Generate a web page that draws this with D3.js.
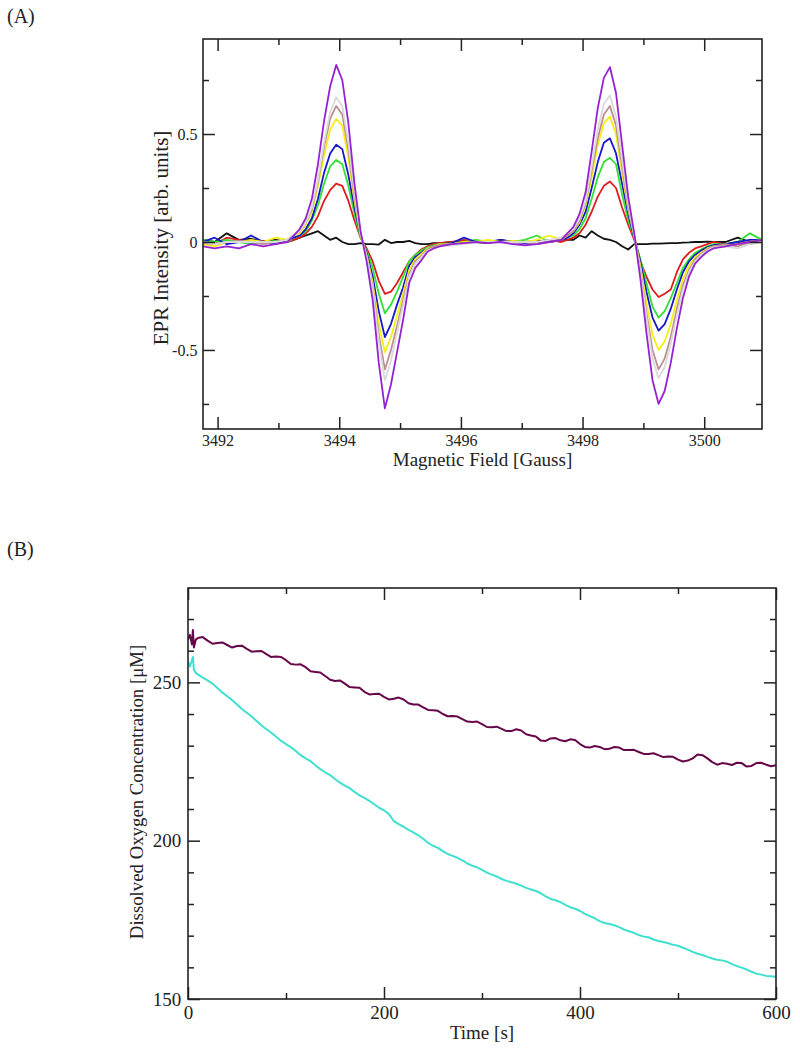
<!DOCTYPE html>
<html>
<head>
<meta charset="utf-8">
<script src="https://cdn.jsdelivr.net/npm/d3@7"></script>
<style>
  body { margin: 0; background: #fff; }
  text { font-family: "Liberation Serif", "DejaVu Serif", serif; fill: #222; }
  .tick line { stroke: #222; stroke-width: 1.5; }
</style>
</head>
<body>
<div id="chart"></div>
<script>
// Panel A: EPR spectra (field in Gauss, intensity in arb. units)
const field = [3491.76, 3491.95, 3492.15, 3492.35, 3492.55, 3492.75, 3492.95, 3493.15, 3493.25,
  3493.35, 3493.45, 3493.55, 3493.65, 3493.75, 3493.85, 3493.95, 3494.05, 3494.15, 3494.25, 3494.35, 3494.45,
  3494.55, 3494.65, 3494.75, 3494.85, 3494.95, 3495.05, 3495.15, 3495.25, 3495.35, 3495.45, 3495.55, 3495.65,
  3495.85, 3496.05, 3496.25, 3496.45, 3496.65, 3496.85, 3497.05, 3497.25, 3497.45, 3497.65, 3497.75,
  3497.85, 3497.95, 3498.05, 3498.15, 3498.25, 3498.35, 3498.45, 3498.55, 3498.65, 3498.75, 3498.85, 3498.95,
  3499.05, 3499.15, 3499.25, 3499.35, 3499.45, 3499.55, 3499.65, 3499.75, 3499.85, 3499.95, 3500.05, 3500.15,
  3500.35, 3500.55, 3500.75, 3500.95];

const blackA = [0.01, 0.0, 0.04, 0.01, 0.015, 0.0, 0.01, 0.0, 0.01,
  0.02, 0.03, 0.04, 0.05, 0.03, 0.01, 0.02, 0.0, -0.01, -0.01, -0.005, -0.01, -0.01, -0.012, 0.01, -0.005, 0.0, 0.0, 0.005, -0.005, -0.01, -0.01, -0.005, -0.005,
  0.0, 0.0, 0.0, -0.005, 0.01, 0.0, 0.0, 0.005, 0.0, 0.01, 0.01,
  0.01, 0.03, 0.02, 0.05, 0.03, 0.015, 0.01, 0.0, -0.02, -0.035, -0.01, -0.01, -0.01, -0.008, -0.008, -0.006, -0.005, -0.005, -0.003, -0.002, 0.0, 0.0, 0.002, 0.0,
  0.0, 0.02, 0.0, 0.01];
const redA = [0.0, -0.01, 0.02, 0.01, 0.0, 0.005, 0.0, 0.0, 0.01,
  0.02, 0.04, 0.07, 0.12, 0.19, 0.24, 0.27, 0.26, 0.19, 0.10, 0.02, -0.03, -0.09, -0.18, -0.24, -0.23, -0.19, -0.14, -0.09, -0.06, -0.035, -0.02, -0.01, -0.005,
  0.0, 0.01, 0.0, 0.005, 0.0, 0.005, 0.0, 0.0, 0.01, 0.0, 0.01,
  0.02, 0.04, 0.08, 0.14, 0.21, 0.26, 0.28, 0.25, 0.16, 0.08, 0.01, -0.09, -0.16, -0.22, -0.255, -0.24, -0.22, -0.14, -0.08, -0.05, -0.03, -0.02, -0.01, 0.0,
  -0.01, 0.0, -0.01, 0.01];
const greenA = [0.01, 0.0, 0.01, 0.0, -0.01, 0.0, 0.005, 0.0, 0.02,
  0.03, 0.05, 0.10, 0.17, 0.27, 0.35, 0.38, 0.36, 0.26, 0.13, 0.02, -0.04, -0.12, -0.24, -0.33, -0.29, -0.23, -0.16, -0.09, -0.06, -0.04, -0.025, -0.015, -0.01,
  -0.005, 0.0, 0.01, 0.0, 0.0, 0.0, 0.01, 0.03, 0.0, 0.01, 0.02,
  0.03, 0.06, 0.11, 0.20, 0.30, 0.37, 0.39, 0.36, 0.22, 0.10, 0.02, -0.08, -0.19, -0.30, -0.35, -0.32, -0.26, -0.19, -0.12, -0.08, -0.05, -0.035, -0.02, -0.01,
  -0.01, 0.0, 0.04, 0.01];
const blueA = [0.0, 0.02, -0.01, 0.0, 0.03, 0.0, -0.01, 0.01, 0.02,
  0.03, 0.06, 0.11, 0.20, 0.32, 0.41, 0.45, 0.43, 0.31, 0.16, 0.03, -0.05, -0.16, -0.32, -0.44, -0.38, -0.29, -0.21, -0.11, -0.07, -0.05, -0.03, -0.02, -0.01,
  -0.005, 0.02, 0.0, 0.0, 0.01, 0.0, -0.005, 0.0, 0.0, 0.01, 0.02,
  0.04, 0.08, 0.14, 0.25, 0.37, 0.46, 0.48, 0.41, 0.27, 0.13, 0.02, -0.09, -0.23, -0.35, -0.41, -0.38, -0.31, -0.22, -0.14, -0.09, -0.06, -0.04, -0.025, -0.015,
  -0.01, 0.0, 0.01, 0.01];
const yellowA = [-0.01, -0.02, 0.0, 0.0, 0.01, 0.0, 0.02, 0.01, 0.03,
  0.04, 0.08, 0.14, 0.26, 0.40, 0.52, 0.57, 0.54, 0.39, 0.19, 0.03, -0.06, -0.19, -0.38, -0.51, -0.44, -0.34, -0.24, -0.13, -0.08, -0.055, -0.03, -0.02, -0.01,
  -0.01, 0.0, 0.0, 0.01, 0.0, 0.005, 0.0, 0.01, 0.03, 0.01, 0.03,
  0.05, 0.09, 0.17, 0.30, 0.45, 0.55, 0.58, 0.50, 0.32, 0.15, 0.03, -0.11, -0.28, -0.43, -0.50, -0.46, -0.38, -0.27, -0.17, -0.11, -0.07, -0.05, -0.03, -0.02,
  -0.02, -0.01, 0.0, 0.01];
const brownA = [-0.005, -0.01, 0.0, 0.005, 0.0, -0.01, 0.0, 0.01, 0.03,
  0.05, 0.09, 0.15, 0.28, 0.44, 0.57, 0.63, 0.59, 0.43, 0.21, 0.04, -0.07, -0.21, -0.43, -0.59, -0.50, -0.39, -0.27, -0.15, -0.09, -0.065, -0.035, -0.02, -0.015,
  -0.01, -0.005, 0.0, 0.0, 0.0, -0.005, 0.0, -0.01, 0.0, 0.01, 0.03,
  0.05, 0.10, 0.18, 0.33, 0.48, 0.59, 0.63, 0.54, 0.35, 0.16, 0.03, -0.13, -0.33, -0.50, -0.59, -0.54, -0.44, -0.31, -0.20, -0.13, -0.08, -0.055, -0.035, -0.02,
  -0.01, -0.02, 0.0, 0.0];
const greyA = [0.0, -0.01, 0.0, 0.0, 0.0, 0.0, 0.0, 0.01, 0.03,
  0.05, 0.09, 0.16, 0.29, 0.46, 0.60, 0.67, 0.63, 0.46, 0.23, 0.04, -0.07, -0.22, -0.46, -0.64, -0.55, -0.42, -0.29, -0.16, -0.10, -0.07, -0.04, -0.03, -0.02,
  -0.015, -0.01, 0.0, 0.0, 0.0, 0.0, 0.0, 0.0, 0.01, 0.02, 0.04,
  0.06, 0.11, 0.19, 0.35, 0.52, 0.64, 0.68, 0.58, 0.38, 0.18, 0.03, -0.14, -0.35, -0.54, -0.63, -0.58, -0.47, -0.34, -0.22, -0.14, -0.09, -0.06, -0.04, -0.025,
  -0.02, -0.03, -0.01, 0.0];
const violetA = [-0.02, -0.03, -0.02, -0.03, -0.01, -0.02, -0.01, 0.0, 0.03,
  0.06, 0.11, 0.20, 0.36, 0.56, 0.72, 0.82, 0.75, 0.55, 0.27, 0.05, -0.09, -0.27, -0.56, -0.77, -0.66, -0.51, -0.36, -0.19, -0.12, -0.085, -0.045, -0.03, -0.02,
  -0.01, -0.005, 0.0, -0.005, 0.0, -0.01, -0.015, -0.01, 0.0, 0.01, 0.04,
  0.07, 0.13, 0.23, 0.42, 0.62, 0.76, 0.81, 0.69, 0.45, 0.21, 0.04, -0.17, -0.42, -0.64, -0.75, -0.69, -0.56, -0.40, -0.26, -0.16, -0.10, -0.07, -0.045, -0.03,
  -0.02, -0.01, 0.0, 0.01];

const seriesA = [blackA, redA, greenA, blueA, yellowA, brownA, greyA, violetA];
const colorsA = ["#111111", "#e01c1c", "#33e033", "#1818c8", "#f4ee14", "#bc8f8f", "#dadada", "#9622d2"];
const xTicksA = [3492, 3494, 3496, 3498, 3500];
const xMinorA = [3493, 3495, 3497, 3499];
const yTicksA = [-0.5, 0, 0.5];
const yMinorA = [-0.75, -0.25, 0.25, 0.75];

// Panel B: dissolved oxygen vs time
const timeB = [0, 2, 4, 5, 6, 8, 10, 15, 20, 25, 30, 35, 40, 45, 50, 55, 60, 65, 70, 75, 80, 85, 90, 95,
  100, 105, 110, 115, 120, 125, 130, 135, 140, 145, 150, 155, 160, 165, 170, 175, 180, 185, 190, 195,
  200, 205, 210, 215, 220, 225, 230, 235, 240, 245, 250, 255, 260, 265, 270, 275, 280, 285, 290, 295,
  300, 305, 310, 315, 320, 325, 330, 335, 340, 345, 350, 355, 360, 365, 370, 375, 380, 385, 390, 395,
  400, 405, 410, 415, 420, 425, 430, 435, 440, 445, 450, 455, 460, 465, 470, 475, 480, 485, 490, 495,
  500, 505, 510, 515, 520, 525, 530, 535, 540, 545, 550, 555, 560, 565, 570, 575, 580, 585, 590, 595, 600];
const maroonB = [263.5, 265, 262, 266.5, 261, 263.5, 264, 264.3, 263.2, 262.2, 262.4, 262.6, 261.8, 261.0, 261.5, 261.6, 260.6, 259.7, 259.8, 259.9, 258.9, 258.0, 258.2, 258.0,
  257.0, 255.8, 255.6, 255.7, 254.8, 253.5, 253.3, 253.1, 252.0, 250.8, 250.4, 250.6, 249.6, 248.5, 248.4, 248.3, 247.0, 246.2, 246.3, 246.4,
  245.4, 244.6, 244.8, 245.2, 244.6, 243.4, 243.0, 243.0, 242.1, 241.3, 241.2, 241.0, 240.0, 239.3, 239.4, 239.2, 238.4, 237.6, 237.5, 237.6,
  236.8, 235.9, 235.8, 236.0, 235.3, 234.6, 234.6, 235.2, 234.8, 233.6, 233.2, 232.9, 231.6, 231.5, 232.3, 232.4, 231.7, 231.4, 232.0, 231.8,
  230.5, 229.6, 229.4, 229.9, 229.6, 228.9, 229.0, 229.6, 229.4, 228.6, 228.6, 228.7, 228.0, 227.4, 227.4, 227.6, 227.0, 226.4, 226.6, 226.5,
  225.6, 225.0, 225.3, 226.0, 227.2, 227.0, 226.0, 224.8, 224.0, 224.5, 224.3, 223.9, 224.6, 224.5, 223.4, 223.6, 224.5, 224.6, 224.0, 223.5, 223.8];
const turquoiseB = [256.5, 255, 257, 258, 254, 253, 252.5, 251.5, 250.6, 249.6, 248.2, 246.8, 245.6, 244.4, 243.0, 241.6, 240.4, 239.2, 237.8, 236.4, 235.2, 234.1, 232.8, 231.5,
  230.5, 229.5, 228.3, 227.0, 226.0, 225.1, 223.8, 222.6, 221.6, 220.7, 219.5, 218.3, 217.4, 216.6, 215.4, 214.3, 213.5, 212.6, 211.5, 210.4,
  209.6, 208.4, 206.2, 205.2, 204.4, 203.4, 202.6, 201.7, 200.6, 199.3, 198.4, 197.7, 196.7, 195.8, 195.2, 194.6, 193.8, 192.8, 192.1, 191.6,
  190.8, 189.9, 189.3, 188.7, 187.9, 187.3, 186.9, 186.4, 185.8, 185.1, 184.6, 184.1, 183.4, 182.4, 181.6, 181.2, 180.6, 179.7, 179.0, 178.5,
  177.8, 176.9, 176.2, 175.5, 174.6, 174.0, 173.7, 173.3, 172.7, 171.9, 171.4, 170.9, 170.2, 169.7, 169.5, 168.8, 168.3, 168.0, 167.6, 167.1,
  166.8, 166.2, 165.6, 164.9, 164.3, 163.9, 163.3, 162.8, 162.4, 162.2, 161.8, 161.0, 160.4, 159.9, 159.3, 158.6, 158.0, 157.7, 157.3, 157.2, 157.0];
const xTicksB = [0, 200, 400, 600];
const xMinorB = [100, 300, 500];
const yTicksB = [150, 200, 250];
const yMinorB = [160, 170, 180, 190, 210, 220, 230, 240, 260, 270];

const svg = d3.select("#chart")
    .append("svg")
    .attr("width", 800)
    .attr("height", 1050);

// draws frame + inward ticks on all four sides
function drawFrame(box, x, y, xMaj, xMin, yMaj, yMin, fontSize, fmtY) {
    const g = svg.append("g");
    const majorLen = 12, minorLen = 6;

    g.append("g")
        .attr("transform", `translate(0, ${box.bottom})`)
        .call(d3.axisBottom(x).tickValues(xMin).tickSize(-minorLen).tickFormat(""));
    g.append("g")
        .attr("transform", `translate(0, ${box.bottom})`)
        .call(d3.axisBottom(x).tickValues(xMaj).tickSize(-majorLen).tickPadding(fontSize * 0.35).tickFormat(d3.format("d")));
    g.append("g")
        .attr("transform", `translate(0, ${box.top})`)
        .call(d3.axisTop(x).tickValues(xMin).tickSize(-minorLen).tickFormat(""));
    g.append("g")
        .attr("transform", `translate(0, ${box.top})`)
        .call(d3.axisTop(x).tickValues(xMaj).tickSize(-majorLen).tickFormat(""));

    g.append("g")
        .attr("transform", `translate(${box.left}, 0)`)
        .call(d3.axisLeft(y).tickValues(yMin).tickSize(-minorLen).tickFormat(""));
    g.append("g")
        .attr("transform", `translate(${box.left}, 0)`)
        .call(d3.axisLeft(y).tickValues(yMaj).tickSize(-majorLen).tickPadding(fontSize * 0.35).tickFormat(fmtY));
    g.append("g")
        .attr("transform", `translate(${box.right}, 0)`)
        .call(d3.axisRight(y).tickValues(yMin).tickSize(-minorLen).tickFormat(""));
    g.append("g")
        .attr("transform", `translate(${box.right}, 0)`)
        .call(d3.axisRight(y).tickValues(yMaj).tickSize(-majorLen).tickFormat(""));

    g.selectAll(".domain").remove();
    g.selectAll(".tick text")
        .style("font-family", '"Liberation Serif", serif')
        .style("font-size", fontSize + "px")
        .attr("fill", "#222");

    g.append("rect")
        .attr("x", box.left)
        .attr("y", box.top)
        .attr("width", box.right - box.left)
        .attr("height", box.bottom - box.top)
        .attr("fill", "none")
        .attr("stroke", "#222")
        .attr("stroke-width", 1.6);
    return g;
}

// ---------- Panel A ----------
const boxA = { left: 203, right: 762, top: 39, bottom: 429 };
const xA = d3.scaleLinear().domain([3491.76, 3500.95]).range([boxA.left, boxA.right]);
const yA = d3.scaleLinear().domain([-0.866, 0.94]).range([boxA.bottom, boxA.top]);

svg.append("clipPath").attr("id", "clipA")
    .append("rect")
    .attr("x", boxA.left).attr("y", boxA.top)
    .attr("width", boxA.right - boxA.left).attr("height", boxA.bottom - boxA.top);

const lineA = d3.line()
    .x((d, i) => xA(field[i]))
    .y(d => yA(d));

svg.append("g")
    .attr("clip-path", "url(#clipA)")
    .selectAll("path")
    .data(seriesA)
    .enter().append("path")
    .attr("fill", "none")
    .attr("stroke", (d, i) => colorsA[i])
    .attr("stroke-width", 1.8)
    .attr("stroke-linejoin", "round")
    .attr("d", lineA);

drawFrame(boxA, xA, yA, xTicksA, xMinorA, yTicksA, yMinorA, 16, d => d === 0 ? "0" : d3.format(".1f")(d).replace("−", "-"));

svg.append("text")
    .attr("x", (boxA.left + boxA.right) / 2)
    .attr("y", 466)
    .style("text-anchor", "middle")
    .style("font-size", "19px")
    .text("Magnetic Field [Gauss]");

svg.append("text")
    .attr("transform", `translate(168, 238) rotate(-90)`)
    .style("text-anchor", "middle")
    .style("font-size", "21px")
    .text("EPR Intensity [arb. units]");

svg.append("text")
    .attr("x", 7).attr("y", 23)
    .style("font-size", "20px")
    .text("(A)");

// ---------- Panel B ----------
const boxB = { left: 188, right: 776, top: 588, bottom: 999 };
const xB = d3.scaleLinear().domain([0, 600]).range([boxB.left, boxB.right]);
const yB = d3.scaleLinear().domain([150, 279.8]).range([boxB.bottom, boxB.top]);

svg.append("clipPath").attr("id", "clipB")
    .append("rect")
    .attr("x", boxB.left).attr("y", boxB.top)
    .attr("width", boxB.right - boxB.left).attr("height", boxB.bottom - boxB.top);

const lineB = d3.line()
    .x((d, i) => xB(timeB[i]))
    .y(d => yB(d));

const gB = svg.append("g").attr("clip-path", "url(#clipB)");
gB.append("path")
    .datum(maroonB)
    .attr("fill", "none")
    .attr("stroke", "#67074a")
    .attr("stroke-width", 2)
    .attr("stroke-linejoin", "round")
    .attr("d", lineB);
gB.append("path")
    .datum(turquoiseB)
    .attr("fill", "none")
    .attr("stroke", "#40e0d0")
    .attr("stroke-width", 2)
    .attr("stroke-linejoin", "round")
    .attr("d", lineB);

drawFrame(boxB, xB, yB, xTicksB, xMinorB, yTicksB, yMinorB, 19, d3.format("d"));

svg.append("text")
    .attr("x", (boxB.left + boxB.right) / 2)
    .attr("y", 1039)
    .style("text-anchor", "middle")
    .style("font-size", "19px")
    .text("Time [s]");

svg.append("text")
    .attr("transform", `translate(143, 792) rotate(-90)`)
    .style("text-anchor", "middle")
    .style("font-size", "18.8px")
    .text("Dissolved Oxygen Concentration [μM]");

svg.append("text")
    .attr("x", 7).attr("y", 556)
    .style("font-size", "20px")
    .text("(B)");
</script>
</body>
</html>
